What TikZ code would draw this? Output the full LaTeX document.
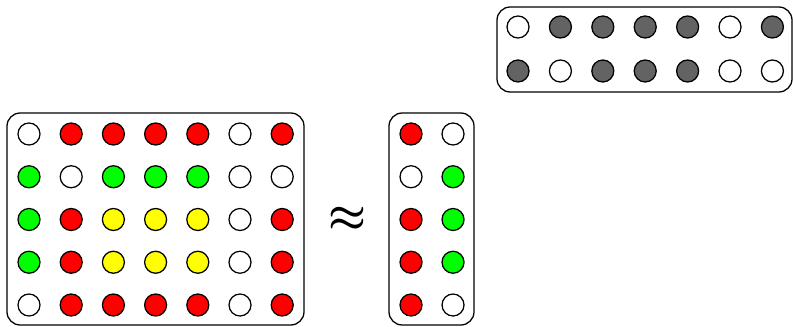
\documentclass[tikz,border=0pt]{standalone}
\usepackage{amsmath, amssymb}
\usepackage{bm}
\usepackage{xcolor}
\usepackage{tikz}
\usetikzlibrary{calc, positioning}

\definecolor{dotW}{HTML}{FFFFFF}
\definecolor{dotR}{HTML}{FF0000}
\definecolor{dotG}{HTML}{00FF00}
\definecolor{dotY}{HTML}{FFFF00}
\definecolor{dotK}{HTML}{636363}

\begin{document}
\begin{tikzpicture}[x=0.025cm, y=-0.025cm,
    dot/.style={circle, draw=black, line width=0.9pt, minimum size=0.55cm, inner sep=0pt},
    panel/.style={draw=black, line width=0.9pt, rounded corners=0.33cm}]
    \useasboundingbox (0,0) rectangle (793,327);

    % 1. Khung
    \draw[panel] (7,113) rectangle (304,325);
    \draw[panel] (389,113) rectangle (474,325);
    \draw[panel] (497,7) rectangle (792,92);

    % 2. Ma trận lớn (5 x 7)
    \foreach \row [count=\i] in {
        {dotW,dotR,dotR,dotR,dotR,dotW,dotR},
        {dotG,dotW,dotG,dotG,dotG,dotW,dotW},
        {dotG,dotR,dotY,dotY,dotY,dotW,dotR},
        {dotG,dotR,dotY,dotY,dotY,dotW,dotR},
        {dotW,dotR,dotR,dotR,dotR,dotW,dotR}} {
        \foreach \c [count=\j] in \row {
            \node[dot, fill=\c] (m-\i-\j) at ({29+42.2*(\j-1)}, {134+42.75*(\i-1)}) {};
        }
    }

    % 3. Ma trận cột (5 x 2)
    \foreach \row [count=\i] in {
        {dotR,dotW},
        {dotW,dotG},
        {dotR,dotG},
        {dotR,dotG},
        {dotR,dotW}} {
        \foreach \c [count=\j] in \row {
            \node[dot, fill=\c] (u-\i-\j) at ({411+42*(\j-1)}, {134+42.75*(\i-1)}) {};
        }
    }

    % 4. Ma trận hàng (2 x 7)
    \foreach \row [count=\i] in {
        {dotW,dotK,dotK,dotK,dotK,dotW,dotK},
        {dotK,dotW,dotK,dotK,dotK,dotW,dotW}} {
        \foreach \c [count=\j] in \row {
            \node[dot, fill=\c] (v-\i-\j) at ({518+42.4*(\j-1)}, {27+44*(\i-1)}) {};
        }
    }

    % 5. Dấu xấp xỉ
    \node[inner sep=0pt] (approx) at (348,219.5) {\resizebox{0.95cm}{0.58cm}{$\bm{\approx}$}};
\end{tikzpicture}
\end{document}
